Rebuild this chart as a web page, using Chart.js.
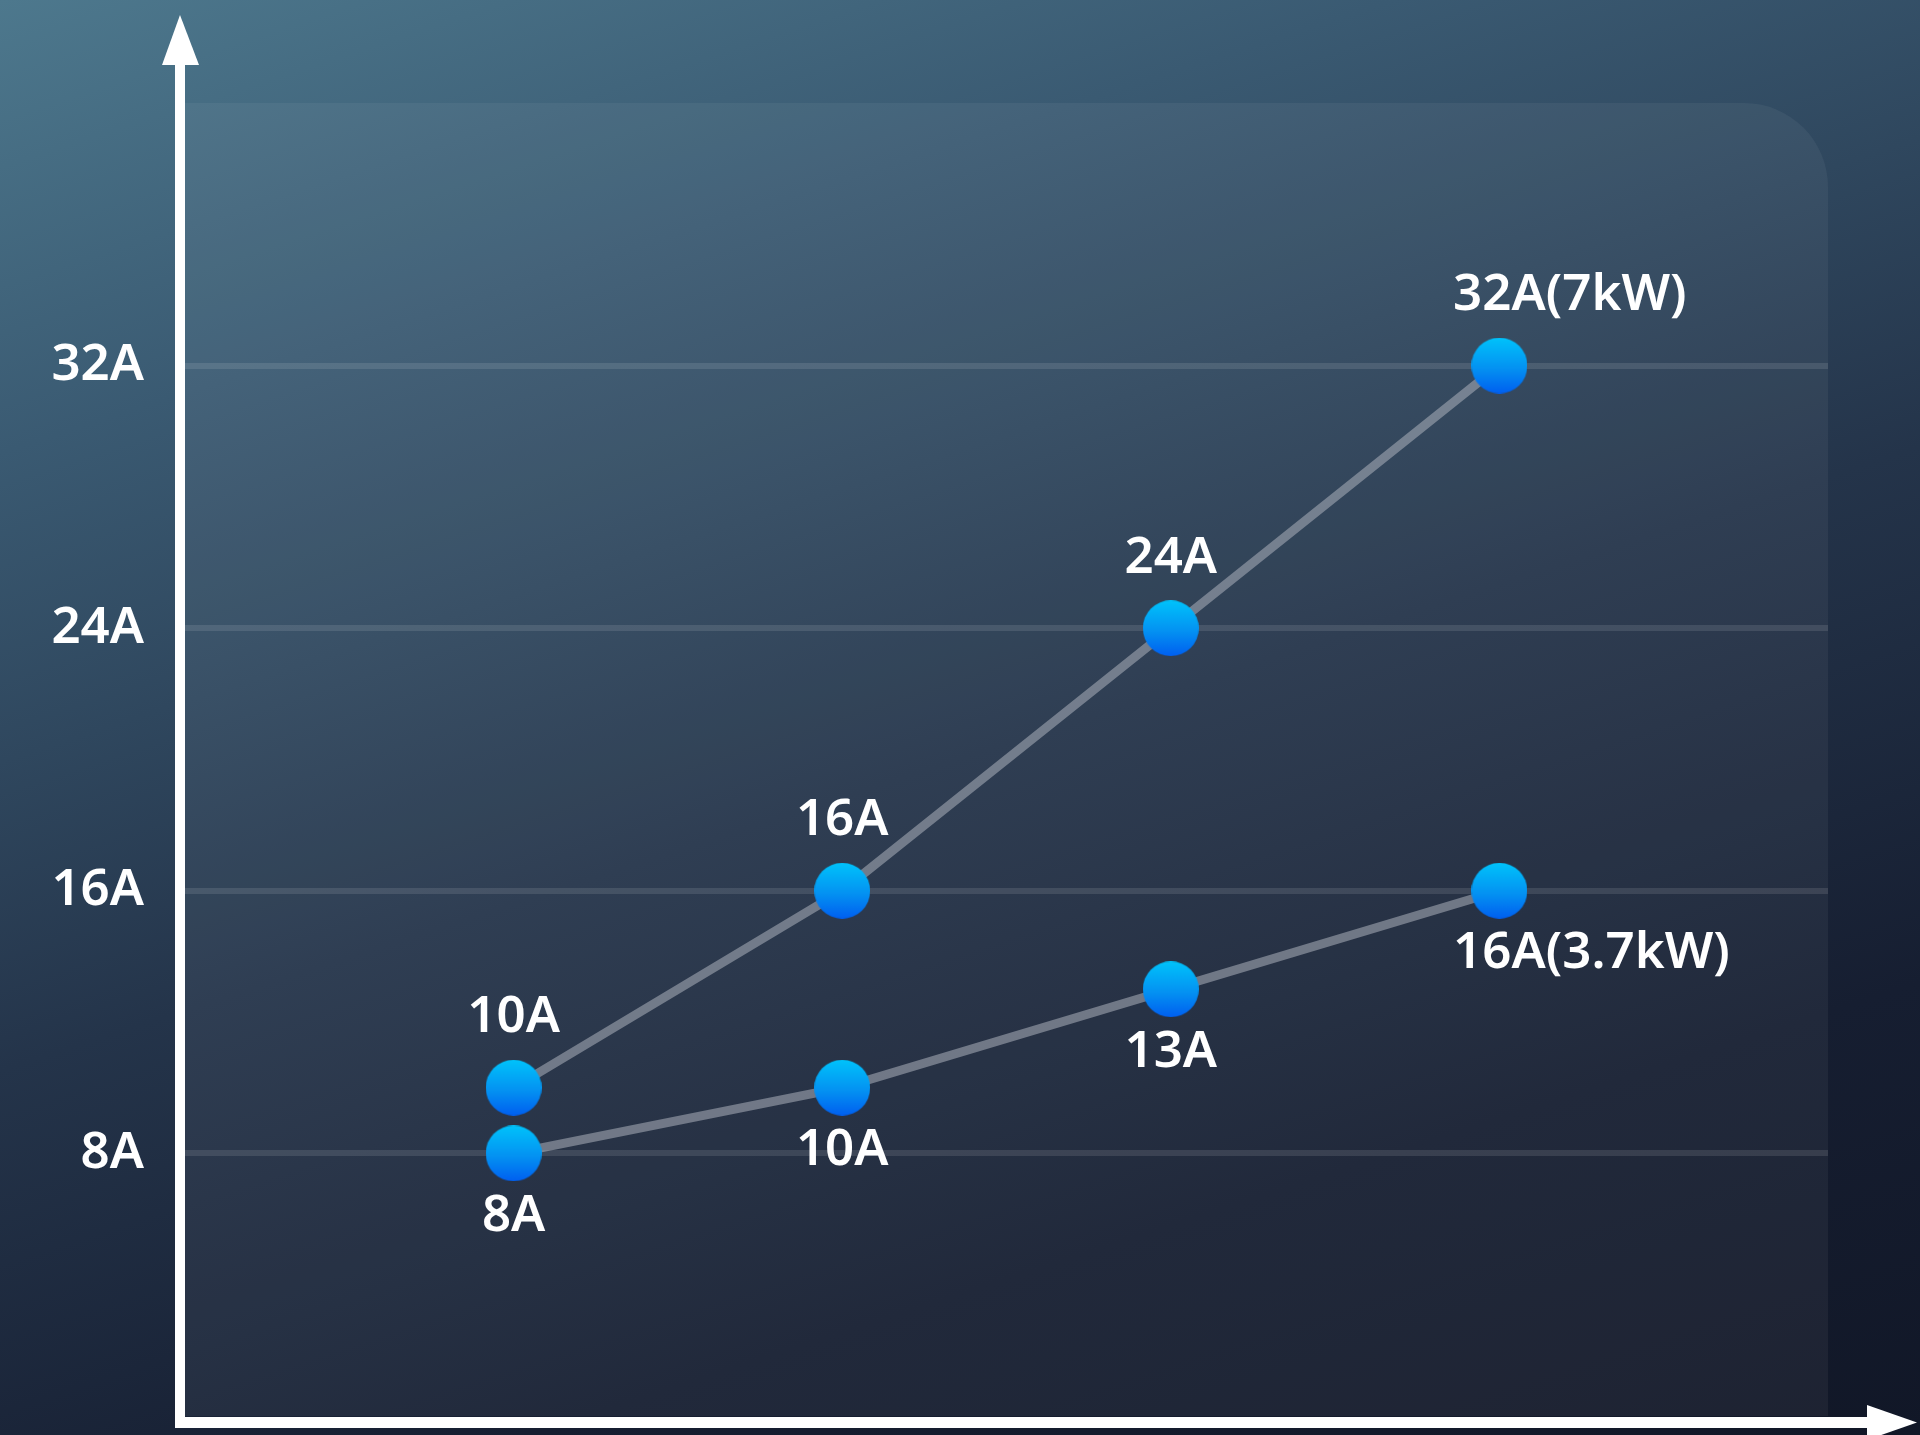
<!DOCTYPE html>
<html>
<head>
<meta charset="utf-8">
<script src="https://cdn.jsdelivr.net/npm/chart.js@4"></script>
<style>
  html, body { margin: 0; padding: 0; }
  body {
    width: 1920px;
    height: 1435px;
    overflow: hidden;
    background: linear-gradient(162deg, #4d788d 0%, #3a5a72 22%, #24344a 52%, #161e31 78%, #111727 100%);
  }
  #wrap { position: relative; width: 1920px; height: 1435px; }
  canvas { display: block; }
</style>
</head>
<body>
<div id="wrap"><canvas id="chart" width="1920" height="1435"></canvas></div>
<script>
// x slots: empty slot at each end so points sit at 1..4
const categories = ['', 'c1', 'c2', 'c3', 'c4', ''];
const upperValues = [null, 10, 16, 24, 32, null];
const upperNotes = ['', '', '', '', '(7kW)', ''];
const lowerValues = [null, 8, 10, 13, 16, null];
const lowerNotes = ['', '', '', '', '(3.7kW)', ''];
const yTickValues = [8, 16, 24, 32];
const yTickLabels = ['8A', '16A', '24A', '32A'];

const FONT = '600 51px "Noto Sans", "Open Sans", sans-serif';

// gradient dot used as point style
function makeDot(r) {
    const c = document.createElement('canvas');
    c.width = r * 2;
    c.height = r * 2;
    const g = c.getContext('2d');
    const grad = g.createLinearGradient(0, 0, 0, r * 2);
    grad.addColorStop(0, '#00c3fb');
    grad.addColorStop(0.55, '#0492f2');
    grad.addColorStop(1, '#005ff0');
    g.fillStyle = grad;
    g.beginPath();
    g.arc(r, r, r, 0, Math.PI * 2);
    g.fill();
    return c;
}
const dot = makeDot(28);

// rounded panel behind the plot
const panelPlugin = {
    id: 'panel',
    beforeDraw(chart) {
        const { ctx, chartArea: a } = chart;
        const r = 84;
        ctx.save();
        ctx.fillStyle = 'rgba(255,255,255,0.05)';
        ctx.beginPath();
        ctx.moveTo(a.left, a.top);
        ctx.lineTo(a.right - r, a.top);
        ctx.arcTo(a.right, a.top, a.right, a.top + r, r);
        ctx.lineTo(a.right, a.bottom);
        ctx.lineTo(a.left, a.bottom);
        ctx.closePath();
        ctx.fill();
        ctx.restore();
    }
};

// white axes with arrow heads
const arrowAxesPlugin = {
    id: 'arrowAxes',
    afterDraw(chart) {
        const { ctx, chartArea: a } = chart;
        ctx.save();
        ctx.fillStyle = '#ffffff';
        // y axis
        ctx.fillRect(a.left - 10, 65, 10, a.bottom + 12 - 65);
        ctx.beginPath();
        ctx.moveTo(a.left - 23, 65);
        ctx.lineTo(a.left + 14, 65);
        ctx.lineTo(a.left - 5, 15);
        ctx.closePath();
        ctx.fill();
        // x axis
        ctx.fillRect(a.left - 10, a.bottom + 1, 1867 - (a.left - 10), 11);
        ctx.beginPath();
        ctx.moveTo(1867, a.bottom - 11);
        ctx.lineTo(1867, a.bottom + 24);
        ctx.lineTo(1917, a.bottom + 6.5);
        ctx.closePath();
        ctx.fill();
        ctx.restore();
    }
};

// value labels: "NNA" centred on the point, note trails to the right
const valueLabelPlugin = {
    id: 'valueLabels',
    afterDatasetsDraw(chart) {
        const { ctx } = chart;
        ctx.save();
        ctx.font = FONT;
        ctx.fillStyle = '#ffffff';
        ctx.textBaseline = 'middle';
        ctx.textAlign = 'left';
        chart.data.datasets.forEach((ds, i) => {
            const meta = chart.getDatasetMeta(i);
            meta.data.forEach((pt, j) => {
                const v = ds.data[j];
                if (v === null) return;
                const main = v + 'A';
                const text = main + ds.notes[j];
                const w = ctx.measureText(main).width;
                const y = ds.labelPos === 'above' ? pt.y - 70 : pt.y + 63;
                ctx.fillText(text, pt.x - w / 2, y);
            });
        });
        ctx.restore();
    }
};

const lineColor = 'rgba(168,174,184,0.57)';

new Chart(document.getElementById('chart'), {
    type: 'line',
    data: {
        labels: categories,
        datasets: [
            {
                data: lowerValues,
                notes: lowerNotes,
                labelPos: 'below',
                borderColor: lineColor,
                borderWidth: 9,
                pointStyle: dot,
                pointRadius: 28,
                tension: 0
            },
            {
                data: upperValues,
                notes: upperNotes,
                labelPos: 'above',
                borderColor: lineColor,
                borderWidth: 9,
                pointStyle: dot,
                pointRadius: 28,
                tension: 0
            }
        ]
    },
    options: {
        responsive: false,
        animation: false,
        devicePixelRatio: 1,
        layout: { autoPadding: false, padding: { top: 103, right: 92, bottom: 19, left: 0 } },
        plugins: {
            legend: { display: false },
            tooltip: { enabled: false }
        },
        scales: {
            x: {
                display: false,
                offset: false
            },
            y: {
                min: 0,
                max: 40,
                afterBuildTicks(scale) {
                    scale.ticks = yTickValues.map(v => ({ value: v }));
                },
                afterFit(scale) {
                    scale.width = 185;
                    scale.paddingTop = 0;
                    scale.paddingBottom = 0;
                },
                ticks: {
                    padding: 41,
                    color: '#ffffff',
                    font: { family: '"Noto Sans", "Open Sans", sans-serif', size: 51, weight: '600' },
                    callback: (value) => yTickLabels[yTickValues.indexOf(value)]
                },
                border: { display: false },
                grid: {
                    color: 'rgba(255,255,255,0.11)',
                    lineWidth: 6,
                    drawTicks: false
                }
            }
        }
    },
    plugins: [panelPlugin, arrowAxesPlugin, valueLabelPlugin]
});
</script>
</body>
</html>
